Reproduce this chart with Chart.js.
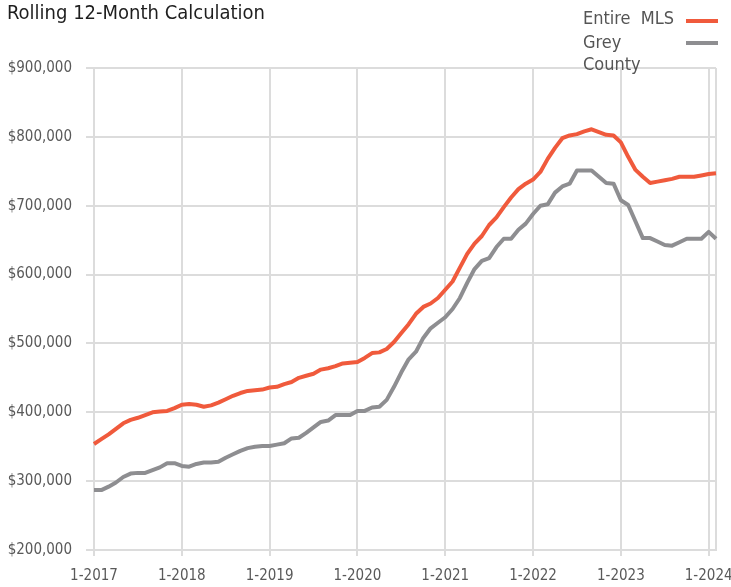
<!DOCTYPE html>
<html>
<head>
<meta charset="utf-8">
<script src="https://cdn.jsdelivr.net/npm/chart.js@4/dist/chart.umd.min.js"></script>
<style>
  html, body { margin: 0; padding: 0; background: #fff; }
  #wrap { position: relative; width: 731px; height: 587px; overflow: hidden; }
  #title { position: absolute; left: 7px; top: 2px; font-family: "Liberation Sans Narrow", "DejaVu Sans Condensed", sans-serif; font-size: 20px; line-height: 21px; color: #1e1e1e; white-space: pre; }
  .lg { position: absolute; font-family: "Liberation Sans Narrow", "DejaVu Sans Condensed", sans-serif; font-size: 18px; line-height: 21.5px; color: #555; white-space: pre; }
  .sw { position: absolute; height: 4px; width: 32px; }
  canvas { position: absolute; left: 0; top: 0; }
</style>
</head>
<body>
<div id="wrap">
  <canvas id="c" width="731" height="587"></canvas>
  <div id="title">Rolling 12-Month Calculation</div>
  <div class="lg" id="lg1" style="left:583px; top:7px;"></div>
  <div class="sw" style="left:686px; top:19px; background:#f05a3c;"></div>
  <div class="lg" id="lg2" style="left:583px; top:31px;"></div>
  <div class="sw" style="left:686px; top:41px; background:#8e8e91;"></div>
</div>
<script>
const months = [
  "1-2017","2-2017","3-2017","4-2017","5-2017","6-2017","7-2017","8-2017","9-2017","10-2017","11-2017","12-2017",
  "1-2018","2-2018","3-2018","4-2018","5-2018","6-2018","7-2018","8-2018","9-2018","10-2018","11-2018","12-2018",
  "1-2019","2-2019","3-2019","4-2019","5-2019","6-2019","7-2019","8-2019","9-2019","10-2019","11-2019","12-2019",
  "1-2020","2-2020","3-2020","4-2020","5-2020","6-2020","7-2020","8-2020","9-2020","10-2020","11-2020","12-2020",
  "1-2021","2-2021","3-2021","4-2021","5-2021","6-2021","7-2021","8-2021","9-2021","10-2021","11-2021","12-2021",
  "1-2022","2-2022","3-2022","4-2022","5-2022","6-2022","7-2022","8-2022","9-2022","10-2022","11-2022","12-2022",
  "1-2023","2-2023","3-2023","4-2023","5-2023","6-2023","7-2023","8-2023","9-2023","10-2023","11-2023","12-2023",
  "1-2024","2-2024"
];
const tickLabels = ["1-2017","1-2018","1-2019","1-2020","1-2021","1-2022","1-2023","1-2024"];
const seriesNames = ["Entire  MLS", "Grey\nCounty"];
const entireMLS = [
  354000,361000,368000,376000,384000,389000,392000,396000,400000,401000,402000,406000,
  411000,412000,411000,408000,410000,414000,419000,424000,428000,431000,432000,433000,
  436000,437000,441000,444000,450000,453000,456000,462000,464000,467000,471000,472000,
  473000,479000,486000,487000,492000,502000,515000,528000,543000,553000,558000,566000,
  578000,590000,610000,630000,645000,656000,672000,683000,698000,712000,724000,732000,
  738000,749000,768000,784000,798000,802000,804000,808000,811000,807000,803000,802000,
  792000,771000,752000,742000,733000,735000,737000,739000,742000,742000,742000,744000,
  746000,747000
];
const greyCounty = [
  287000,287000,292000,298000,306000,311000,312000,312000,316000,320000,326000,326000,
  322000,321000,325000,327000,327000,328000,334000,339000,344000,348000,350000,351000,
  351000,353000,355000,362000,363000,370000,378000,386000,388000,396000,396000,396000,
  402000,402000,407000,408000,418000,437000,458000,477000,488000,508000,522000,530000,
  538000,550000,566000,588000,608000,620000,624000,640000,652000,652000,665000,674000,
  688000,700000,702000,719000,728000,732000,751000,751000,751000,742000,733000,732000,
  708000,701000,677000,653000,653000,648000,643000,642000,647000,652000,652000,652000,
  662000,652000
];

document.getElementById('lg1').textContent = seriesNames[0];
document.getElementById('lg2').textContent = seriesNames[1];

const FONT = '"Liberation Sans Narrow", "DejaVu Sans Condensed", sans-serif';
const GRID = '#dcdcdc';
const lastIdx = months.length - 1;

new Chart(document.getElementById('c'), {
  type: 'line',
  data: {
    labels: months,
    datasets: [
      { label: seriesNames[0], data: entireMLS, borderColor: '#f05a3c', borderWidth: 4, pointRadius: 0, tension: 0, borderJoinStyle: 'round', borderCapStyle: 'butt' },
      { label: seriesNames[1], data: greyCounty, borderColor: '#8e8e91', borderWidth: 4, pointRadius: 0, tension: 0, borderJoinStyle: 'round', borderCapStyle: 'butt' }
    ]
  },
  options: {
    responsive: false,
    animation: false,
    layout: { padding: { top: 68, right: 15, left: 0, bottom: 0 } },
    plugins: { legend: { display: false }, tooltip: { enabled: false } },
    scales: {
      x: {
        type: 'category',
        offset: false,
        afterFit: (s) => { s.height = 37; },
        border: { display: true, color: GRID, width: 2 },
        grid: {
          lineWidth: 2,
          color: (ctx) => (ctx.index % 12 === 0 || ctx.index === lastIdx) ? GRID : 'rgba(0,0,0,0)',
          tickColor: (ctx) => (ctx.index % 12 === 0) ? GRID : 'rgba(0,0,0,0)',
          tickLength: 6,
          drawOnChartArea: true
        },
        ticks: {
          autoSkip: false,
          maxRotation: 0,
          minRotation: 0,
          padding: 11,
          color: '#595959',
          font: { family: FONT, size: 15 },
          callback: function(v, i) {
            const l = months[i];
            return tickLabels.includes(l) ? l : '';
          }
        }
      },
      y: {
        min: 200000,
        max: 900000,
        afterFit: (s) => { s.width = 94; },
        border: { display: true, color: GRID, width: 2 },
        grid: { lineWidth: 2, color: GRID, tickColor: GRID, tickLength: 8 },
        ticks: {
          stepSize: 100000,
          padding: 14,
          color: '#595959',
          font: { family: FONT, size: 15 },
          callback: (v) => '$' + Number(v).toLocaleString('en-US')
        }
      }
    }
  }
});
</script>
</body>
</html>
